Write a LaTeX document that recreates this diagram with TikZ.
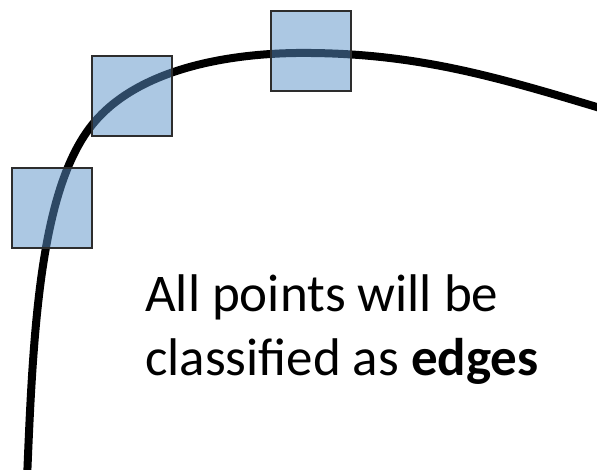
\documentclass[tikz,border=0pt]{standalone}
\usepackage{fontspec}
\setmainfont{Carlito}
\definecolor{sqfill}{RGB}{90,145,200}
\definecolor{sqline}{RGB}{45,45,45}
\begin{document}
\begin{tikzpicture}[x=1pt,y=-1pt,
  win/.style={draw=sqline,line width=1.4pt,fill=sqfill,fill opacity=0.5,
    minimum size=80pt,inner sep=0pt,outer sep=0pt},
  curve/.style={line width=8pt,black,line join=round},
  txt/.style={font=\fontsize{53}{63}\selectfont,inner sep=0pt,anchor=base west}]
\useasboundingbox (0,0) rectangle (597,470);
\begin{scope}
\clip (0,0) rectangle (597,470);
\draw[curve] (27,480) .. controls (33,330) and (40,190) .. (92,125)
  .. controls (140,65) and (240,52) .. (311,53)
  .. controls (420,54) and (500,78) .. (600,108);
\end{scope}
\node[win] (s1) at (52,208) {};
\node[win] (s2) at (132,96) {};
\node[win] (s3) at (311,51) {};
\node[txt] (l1) at (145,312) {All points will be};
\node[txt] (l2) at (145,375) {classified as \textbf{edges}};
\end{tikzpicture}
\end{document}
